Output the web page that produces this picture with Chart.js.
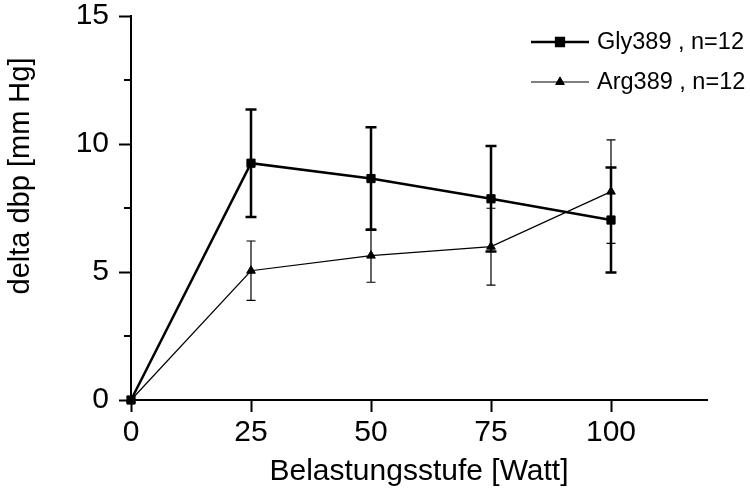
<!DOCTYPE html>
<html>
<head>
<meta charset="utf-8">
<script src="https://cdn.jsdelivr.net/npm/chart.js@4.4.1/dist/chart.umd.min.js"></script>
<style>
  html, body { margin: 0; padding: 0; background: #fff; }
  #wrap { width: 750px; height: 497px; position: relative; }
</style>
</head>
<body>
<div id="wrap"><canvas id="chart"></canvas></div>
<script>
// values
const watt = [0, 25, 50, 75, 100];
const glyMean = [0, 9.25, 8.65, 7.86, 7.03];
const glyErr = [0, 2.1, 2.0, 2.06, 2.05];
const argMean = [0, 5.05, 5.64, 5.99, 8.14];
const argErr = [0, 1.16, 1.04, 1.5, 2.02];

const xTicks = [0, 25, 50, 75, 100];
const yTicks = [0, 5, 10, 15];
const yMinorTicks = [2.5, 7.5, 12.5];

const FONT = "'Liberation Sans', Arial, sans-serif";

function toPoints(means) {
  return watt.map((w, i) => ({ x: w, y: means[i] }));
}

// error bars, drawn through the chart's scales
const errorBars = {
  id: 'errorBars',
  afterDatasetsDraw(chart) {
    const ctx = chart.ctx;
    const yScale = chart.scales.y;
    const xScale = chart.scales.x;
    chart.data.datasets.forEach(ds => {
      ctx.save();
      ctx.strokeStyle = '#000';
      ctx.lineWidth = ds.errWidth;
      ds.data.forEach((p, i) => {
        const e = ds.errors[i];
        if (!e) return;
        const x = xScale.getPixelForValue(p.x);
        const top = yScale.getPixelForValue(p.y + e);
        const bot = yScale.getPixelForValue(p.y - e);
        const c = ds.capHalf;
        ctx.beginPath();
        ctx.moveTo(x, top); ctx.lineTo(x, bot);
        ctx.moveTo(x - c, top); ctx.lineTo(x + c, top);
        ctx.moveTo(x - c, bot); ctx.lineTo(x + c, bot);
        ctx.stroke();
      });
      ctx.restore();
    });
  }
};

// minor y ticks, y title and the legend in the top right corner
const extras = {
  id: 'extras',
  afterDraw(chart) {
    const ctx = chart.ctx;
    const yScale = chart.scales.y;
    const left = chart.chartArea.left;
    ctx.save();
    ctx.strokeStyle = '#000';
    ctx.lineWidth = 2;
    yMinorTicks.forEach(v => {
      const y = yScale.getPixelForValue(v);
      ctx.beginPath();
      ctx.moveTo(left - 7, y);
      ctx.lineTo(left, y);
      ctx.stroke();
    });

    // y axis title (sits a bit above the middle in the original)
    ctx.save();
    ctx.translate(21, 176);
    ctx.rotate(-Math.PI / 2);
    ctx.font = '29px ' + FONT;
    ctx.textAlign = 'center';
    ctx.textBaseline = 'middle';
    ctx.fillStyle = '#000';
    ctx.fillText('delta dbp [mm Hg]', 0, 0);
    ctx.restore();

    // legend
    const rows = [
      { text: 'Gly389 , n=12', y: 42, width: 2.5, style: 'rect', r: 5.5 },
      { text: 'Arg389 , n=12', y: 82, width: 1, style: 'triangle', r: 5 }
    ];
    ctx.font = '23.5px ' + FONT;
    ctx.textBaseline = 'middle';
    ctx.fillStyle = '#000';
    rows.forEach(r => {
      ctx.lineWidth = r.width;
      ctx.beginPath();
      ctx.moveTo(531, r.y);
      ctx.lineTo(589, r.y);
      ctx.stroke();
      Chart.helpers.drawPoint(ctx, { pointStyle: r.style, radius: r.r, rotation: 0, borderWidth: 1 }, 560, r.y);
      ctx.fill();
      ctx.fillText(r.text, 597, r.y + 1);
    });
    ctx.restore();
  }
};

new Chart(document.getElementById('chart'), {
  type: 'line',
  data: {
    datasets: [
      {
        label: 'Gly389 , n=12',
        data: toPoints(glyMean),
        errors: glyErr,
        errWidth: 2.5,
        capHalf: 5.5,
        borderColor: '#000',
        backgroundColor: '#000',
        borderWidth: 2.5,
        pointStyle: 'rect',
        pointRadius: 5.8,
        pointBorderWidth: 1,
        clip: false
      },
      {
        label: 'Arg389 , n=12',
        data: toPoints(argMean),
        errors: argErr,
        errWidth: 1.2,
        capHalf: 4.5,
        borderColor: '#000',
        backgroundColor: '#000',
        borderWidth: 1.2,
        pointStyle: 'triangle',
        pointRadius: 5,
        pointBorderWidth: 1,
        clip: false
      }
    ]
  },
  options: {
    responsive: true,
    maintainAspectRatio: false,
    animation: false,
    layout: { autoPadding: false, padding: { top: 16, right: 43, left: 0, bottom: 0 } },
    plugins: {
      legend: { display: false },
      tooltip: { enabled: false }
    },
    scales: {
      x: {
        type: 'linear',
        min: 0,
        max: 120,
        afterBuildTicks: s => { s.ticks = xTicks.map(v => ({ value: v })); },
        afterFit: s => { s.height = 97; s.paddingLeft = 0; s.paddingRight = 0; },
        border: { display: true, color: '#000', width: 2 },
        grid: { drawOnChartArea: false, drawTicks: true, tickLength: 12, tickWidth: 2, tickColor: '#000' },
        ticks: { color: '#000', font: { family: FONT, size: 30 }, padding: 3, maxRotation: 0 },
        title: {
          display: true,
          text: 'Belastungsstufe [Watt]',
          color: '#000',
          font: { family: FONT, size: 30 },
          padding: { top: 0, bottom: 7 }
        }
      },
      y: {
        min: 0,
        max: 15,
        afterBuildTicks: s => { s.ticks = yTicks.map(v => ({ value: v })); },
        afterFit: s => { s.width = 131; s.paddingTop = 0; s.paddingBottom = 0; },
        border: { display: true, color: '#000', width: 2 },
        grid: { drawOnChartArea: false, drawTicks: true, tickLength: 12, tickWidth: 2, tickColor: '#000' },
        ticks: { color: '#000', font: { family: FONT, size: 30 }, padding: 10 },
        title: { display: false }
      }
    }
  },
  plugins: [errorBars, extras]
});
</script>
</body>
</html>
